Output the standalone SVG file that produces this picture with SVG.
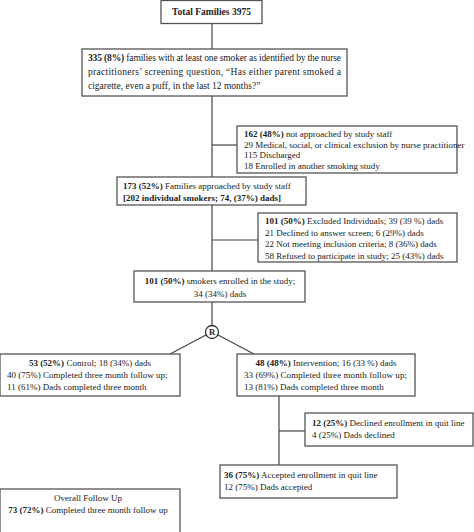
<svg xmlns="http://www.w3.org/2000/svg" width="474" height="532" viewBox="0 0 474 532">
<style>
.box{fill:#fff;stroke:#555;stroke-width:1.3}
.ln{stroke:#444;stroke-width:1.2;fill:none}
text{font-family:"Liberation Serif","Times New Roman",serif;font-size:9px;fill:#222}
.b{font-weight:bold}
.m{text-anchor:middle}
.big{font-size:9.5px}
</style>
<rect width="474" height="532" fill="#fff"/>
<g id="connectors">
<line class="ln" x1="212" y1="23" x2="212" y2="49"/>
<line class="ln" x1="212" y1="96" x2="212" y2="177"/>
<line class="ln" x1="212" y1="145" x2="237" y2="145"/>
<line class="ln" x1="212" y1="205" x2="212" y2="271"/>
<line class="ln" x1="212" y1="240" x2="258" y2="240"/>
<line class="ln" x1="212" y1="302" x2="212" y2="325.5"/>
<line class="ln" x1="206" y1="335" x2="170" y2="354"/>
<line class="ln" x1="218" y1="335" x2="254" y2="354"/>
<line class="ln" x1="279" y1="396" x2="279" y2="465"/>
<line class="ln" x1="279" y1="431" x2="305" y2="431"/>
</g>
<g id="n1"><rect class="box" x="161" y="0.5" width="101" height="23"/>
<text class="b m big" x="211.5" y="15">Total Families 3975</text></g>
<g id="n2"><rect class="box" x="82" y="49" width="265" height="47"/>
<text class="big" x="88" y="61" textLength="253" lengthAdjust="spacing"><tspan class="b">335 (8%)</tspan> families with at least one smoker as identified by the nurse</text>
<text class="big" x="88" y="75" textLength="253" lengthAdjust="spacing">practitioners’ screening question, “Has either parent smoked a</text>
<text class="big" x="88" y="89">cigarette, even a puff, in the last 12 months?”</text></g>
<g id="n3"><rect class="box" x="237" y="126" width="220" height="47"/>
<text x="244" y="137"><tspan class="b">162 (48%)</tspan> not approached by study staff</text>
<text x="244" y="147.5">29 Medical, social, or clinical exclusion by nurse practitioner</text>
<text x="244" y="158">115 Discharged</text>
<text x="244" y="168.5">18 Enrolled in another smoking study</text></g>
<g id="n4"><rect class="box" x="117" y="177" width="189" height="28"/>
<text x="123" y="189"><tspan class="b">173 (52%)</tspan> Families approached by study staff</text>
<text class="b" x="123" y="201">[202 individual smokers; 74, (37%) dads]</text></g>
<g id="n5"><rect class="box" x="258" y="213" width="199" height="49"/>
<text x="265" y="224"><tspan class="b">101 (50%)</tspan> Excluded Individuals; 39 (39 %) dads</text>
<text x="265" y="235.5">21 Declined to answer screen; 6 (29%) dads</text>
<text x="265" y="247">22 Not meeting inclusion criteria; 8 (36%) dads</text>
<text x="265" y="258.5">58 Refused to participate in study; 25 (43%) dads</text></g>
<g id="n6"><rect class="box" x="134" y="271" width="171" height="31"/>
<text class="m" x="220" y="284"><tspan class="b">101 (50%)</tspan> smokers enrolled in the study;</text>
<text class="m" x="220" y="297">34 (34%) dads</text></g>
<g id="r"><circle cx="212" cy="332" r="6.5" fill="#fff" stroke="#333" stroke-width="1.3"/>
<text class="b m" x="212" y="335.3" style="font-size:8.5px">R</text></g>
<g id="n7"><rect class="box" x="0" y="354" width="180" height="42"/>
<text class="m" x="90" y="366"><tspan class="b">53 (52%)</tspan> Control; 18 (34%) dads</text>
<text x="7" y="378">40 (75%) Completed three month follow up;</text>
<text x="7" y="390">11 (61%) Dads completed three month</text></g>
<g id="n8"><rect class="box" x="237" y="354" width="178" height="42"/>
<text class="m" x="326" y="366"><tspan class="b">48 (48%)</tspan> Intervention; 16 (33 %) dads</text>
<text x="244" y="378" textLength="163" lengthAdjust="spacing">33 (69%) Completed three month follow up;</text>
<text x="244" y="390">13 (81%) Dads completed three month</text></g>
<g id="n9"><rect class="box" x="305" y="413" width="168" height="33"/>
<text x="312" y="426"><tspan class="b">12 (25%)</tspan> Declined enrollment in quit line</text>
<text x="312" y="438">4 (25%) Dads declined</text></g>
<g id="n10"><rect class="box" x="220" y="465" width="177" height="33"/>
<text x="224" y="478"><tspan class="b">36 (75%)</tspan> Accepted enrollment in quit line</text>
<text x="224" y="490">12 (75%)  Dads accepted</text></g>
<g id="n11"><rect class="box" x="0" y="489" width="180" height="50"/>
<text class="m" x="88" y="501">Overall Follow Up</text>
<text class="m" x="88" y="513"><tspan class="b">73 (72%)</tspan> Completed three month follow up</text></g>
</svg>
